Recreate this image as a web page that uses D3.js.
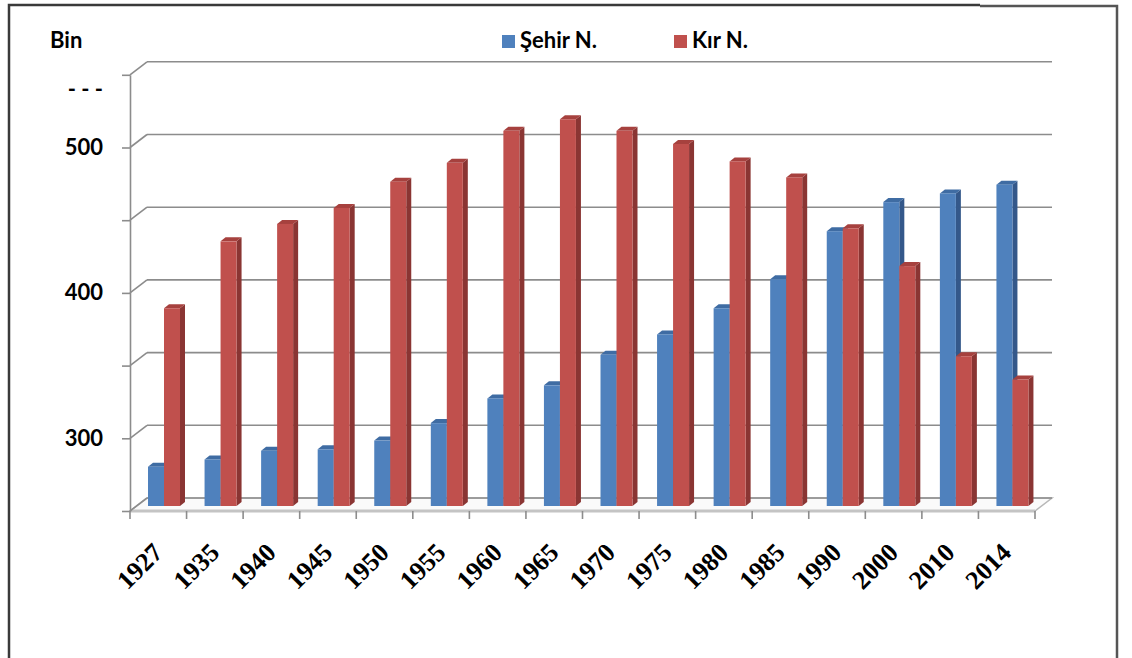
<!DOCTYPE html>
<html>
<head>
<meta charset="utf-8">
<script src="https://d3js.org/d3.v7.min.js"></script>
<style>
    html, body { margin: 0; padding: 0; background: #fff; }
    svg { display: block; }
    .lbl { font-family: Lato, "Open Sans", sans-serif; font-weight: bold; font-size: 22px; fill: #000; }
    .year { font-family: "Liberation Serif", "DejaVu Serif", serif; font-weight: bold; font-size: 26px; fill: #000; }
</style>
</head>
<body>
<script>
// values in thousands
var years = ["1927", "1935", "1940", "1945", "1950", "1955", "1960", "1965", "1970", "1975", "1980", "1985", "1990", "2000", "2010", "2014"],
    sehir = [277, 282, 288, 289, 295, 307, 324, 333, 354, 368, 386, 406, 439, 459, 465, 471],
    kir = [386, 432, 444, 455, 473, 486, 508, 516, 508, 499, 487, 476, 441, 415, 353, 337],
    seriesNames = ["Şehir N.", "Kır N."],
    gridValues = [250, 300, 350, 400, 450, 500, 550],
    tickLabels = ["300", "400", "500"],
    topLabel = "- - -",
    unitLabel = "Bin";

var colors = [
        { front: "#4f81bd", side: "#34588a", top: "#3f6ca3" },
        { front: "#c0504d", side: "#8a3533", top: "#a6413e" }
    ],
    wallDx = 17, wallDy = -13,   // offset of the back wall
    barDx = 5, barDy = -4;       // depth of a single bar

var svg = d3.select("body").append("svg")
    .attr("width", 1132)
    .attr("height", 658);

// outer frame
svg.append("path")
    .attr("d", "M9,700 V5 H980")
    .attr("fill", "none").attr("stroke", "#3a3a3a").attr("stroke-width", 2.5);
svg.append("path")
    .attr("d", "M980,6 H1117 V700")
    .attr("fill", "none").attr("stroke", "#555").attr("stroke-width", 2.5);

var x = d3.scaleBand()
        .domain(years)
        .range([130, 1035]),
    xSub = d3.scaleBand()
        .domain(seriesNames)
        .range([18, 50]),
    y = d3.scaleLinear()
        .domain([250, 550])
        .range([511, 74.8]);

function yBar(v) { return y(v) - 5; }

// floor
svg.append("path")
    .attr("d", "M130," + y(250) + " H1035 l" + wallDx + "," + wallDy + " H" + (130 + wallDx) + " Z")
    .attr("fill", "#fafafa").attr("stroke", "#b8b8b8").attr("stroke-width", 1.5);
svg.append("line")
    .attr("x1", 130).attr("x2", 1035).attr("y1", y(250)).attr("y2", y(250))
    .attr("stroke", "#c4c4c4").attr("stroke-width", 3);

// back wall gridlines with the slanted connectors
var grid = svg.append("g");
grid.selectAll("line.g")
    .data(gridValues)
    .enter().append("line")
    .attr("x1", 130 + wallDx).attr("x2", 1035 + wallDx)
    .attr("y1", function (d) { return y(d) + wallDy; })
    .attr("y2", function (d) { return y(d) + wallDy; })
    .attr("stroke", "#8c8c8c").attr("stroke-width", 1.6);
grid.selectAll("line.s")
    .data(gridValues)
    .enter().append("line")
    .attr("x1", 130).attr("x2", 130 + wallDx)
    .attr("y1", function (d) { return y(d); })
    .attr("y2", function (d) { return y(d) + wallDy; })
    .attr("stroke", "#8c8c8c").attr("stroke-width", 1.6);

// value axis
var yAxis = svg.append("g")
    .attr("transform", "translate(130,0)")
    .call(d3.axisLeft(y)
        .tickValues(gridValues)
        .tickSize(8)
        .tickSizeOuter(0)
        .tickPadding(19)
        .tickFormat(function (d) { return tickLabels.indexOf(String(d)) >= 0 ? String(d) : ""; }));
yAxis.select(".domain").attr("stroke", "#8c8c8c").attr("stroke-width", 1.6);
yAxis.selectAll(".tick line").attr("stroke", "#8c8c8c").attr("stroke-width", 1.6);
yAxis.selectAll(".tick text").attr("class", "lbl").attr("fill", "#000");

svg.append("text")
    .attr("class", "lbl")
    .attr("x", 103).attr("y", y(550) + 22)
    .attr("text-anchor", "end")
    .text(topLabel);

svg.append("text")
    .attr("class", "lbl")
    .attr("x", 50).attr("y", 48)
    .text(unitLabel);

// category axis
var xAxis = svg.append("g")
    .attr("transform", "translate(0," + y(250) + ")")
    .call(d3.axisBottom(x).tickSize(0).tickSizeOuter(0));
xAxis.select(".domain").remove();
xAxis.selectAll(".tick text")
    .attr("class", "year")
    .attr("fill", "#000")
    .attr("y", 0).attr("dy", null)
    .attr("transform", "translate(6,43) rotate(-45)")
    .style("text-anchor", "end");

svg.append("g").selectAll("line")
    .data(years.concat(["end"]))
    .enter().append("line")
    .attr("x1", function (d) { return d === "end" ? x.range()[1] : x(d); })
    .attr("x2", function (d) { return d === "end" ? x.range()[1] : x(d); })
    .attr("y1", y(250)).attr("y2", y(250) + 8)
    .attr("stroke", "#8c8c8c").attr("stroke-width", 1.6);

// bars
var rows = years.map(function (yr, i) {
    return { year: yr, values: [sehir[i], kir[i]] };
});

var cat = svg.append("g").selectAll("g")
    .data(rows)
    .enter().append("g")
    .attr("transform", function (d) { return "translate(" + x(d.year) + ",0)"; });

var bar = cat.selectAll("g")
    .data(function (d) {
        return d.values.map(function (v, k) { return { key: seriesNames[k], k: k, value: v }; });
    })
    .enter().append("g");

bar.append("path")
    .attr("fill", function (d) { return colors[d.k].side; })
    .attr("d", function (d) {
        var x1 = xSub(d.key) + xSub.bandwidth(), t = yBar(d.value), b = yBar(250);
        return "M" + x1 + "," + b + " V" + t + " l" + barDx + "," + barDy + " V" + (b + barDy) + " Z";
    });
bar.append("path")
    .attr("fill", function (d) { return colors[d.k].top; })
    .attr("d", function (d) {
        var x0 = xSub(d.key), t = yBar(d.value);
        return "M" + x0 + "," + t + " h" + xSub.bandwidth() + " l" + barDx + "," + barDy + " h" + (-xSub.bandwidth()) + " Z";
    });
bar.append("rect")
    .attr("fill", function (d) { return colors[d.k].front; })
    .attr("x", function (d) { return xSub(d.key); })
    .attr("width", xSub.bandwidth())
    .attr("y", function (d) { return yBar(d.value); })
    .attr("height", function (d) { return yBar(250) - yBar(d.value); });

// legend
var legendX = [502, 674],
    legend = svg.append("g").selectAll("g")
        .data(seriesNames)
        .enter().append("g")
        .attr("transform", function (d, i) { return "translate(" + legendX[i] + ",35)"; });

legend.append("rect")
    .attr("width", 13).attr("height", 13)
    .attr("fill", function (d, i) { return colors[i].front; });
legend.append("text")
    .attr("class", "lbl")
    .attr("x", 18).attr("y", 13)
    .text(function (d) { return d; });
</script>
</body>
</html>
